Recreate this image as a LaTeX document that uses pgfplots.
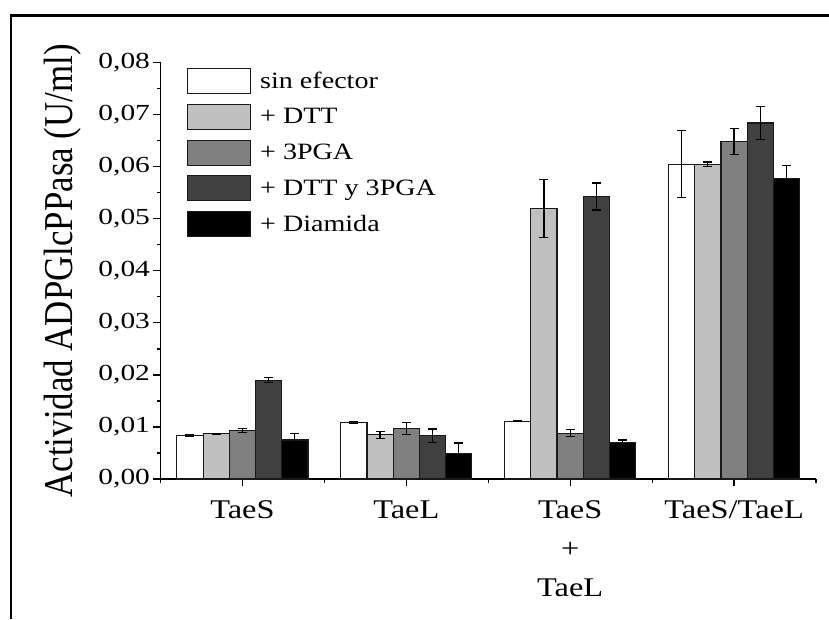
\documentclass[border=0pt]{standalone}
\usepackage{pgfplots}
\pgfplotsset{compat=1.18}
\usepackage{fontspec}
\setmainfont{Liberation Serif}
\newfontfamily\tallfont[FakeStretch=0.85]{Liberation Serif}

% horizontally widened text
\newcommand{\ws}[2][1.2]{\scalebox{#1}[1]{#2}}

\definecolor{cSin}{RGB}{255,255,255}
\definecolor{cDTT}{RGB}{192,192,192}
\definecolor{cPGA}{RGB}{128,128,128}
\definecolor{cBoth}{RGB}{64,64,64}
\definecolor{cDia}{RGB}{0,0,0}

% x = group (1 TaeS, 2 TaeL, 3 TaeS+TaeL, 4 TaeS/TaeL), y = activity (U/ml), e = error
\pgfplotstableread{
x y e
1 0.0083 0.0002
2 0.0109 0.0002
3 0.0111 0.0001
4 0.0605 0.0064
}\sinefector
\pgfplotstableread{
x y e
1 0.0087 0.0001
2 0.0085 0.0007
3 0.0520 0.0056
4 0.0605 0.0004
}\dtt
\pgfplotstableread{
x y e
1 0.0093 0.0004
2 0.0097 0.0012
3 0.0088 0.0007
4 0.0649 0.0025
}\pga
\pgfplotstableread{
x y e
1 0.0190 0.0005
2 0.0083 0.0013
3 0.0543 0.0026
4 0.0684 0.0032
}\dttpga
\pgfplotstableread{
x y e
1 0.0075 0.0013
2 0.0049 0.0020
3 0.0070 0.0005
4 0.0578 0.0024
}\diamida

\pgfplotsset{
  mybar/.style={
    draw=black!90, line width=1.2pt, fill=#1,
    error bars/y dir=both, error bars/y explicit,
    error bars/error bar style={line width=1.2pt, black},
    error bars/error mark options={rotate=90, mark size=4.5pt, line width=1.2pt, black},
  },
  boxlegend/.style={
    legend image code/.code={\draw[##1, line width=1.2pt] (0pt,-12.5pt) rectangle (63pt,12.5pt);}
  },
}

\begin{document}
\begin{tikzpicture}
\path[use as bounding box] (0,0) rectangle (829pt,619pt);
\draw[line width=2.5pt] (11pt,0) -- (11pt,603.3pt) -- (829pt,603.3pt);
\begin{axis}[
  at={(160.5pt,140pt)}, anchor=south west,
  scale only axis, width=655.5pt, height=416.3pt,
  xmin=0.5, xmax=4.5, ymin=0, ymax=0.08,
  axis x line*=bottom, axis y line*=left,
  axis line style={line width=1.2pt},
  tick align=outside,
  major tick length=7pt, minor tick length=4pt,
  every tick/.style={black, line width=1.2pt},
  xtick={1,2,3,4},
  xticklabels={\ws{TaeS},\ws{TaeL},{\ws{TaeS}\\\ws{+}\\\ws{TaeL}},\ws{TaeS/TaeL}},
  minor xtick={0.5,1.5,2.5,3.5,4.5},
  ytick={0,0.01,0.02,0.03,0.04,0.05,0.06,0.07,0.08},
  minor ytick={0.005,0.015,0.025,0.035,0.045,0.055,0.065,0.075},
  scaled y ticks=false,
  /pgf/number format/fixed,
  /pgf/number format/fixed zerofill,
  /pgf/number format/precision=2,
  /pgf/number format/use comma,
  /pgf/number format/assume math mode=true,
  yticklabel={\ws[1.28]{\pgfmathprintnumber{\tick}}},
  xticklabel style={font=\fontsize{27}{39}\selectfont, align=center, yshift=-11pt},
  yticklabel style={font=\fontsize{23}{27}\selectfont},
  ylabel={Actividad ADPGlcPPasa (U/ml)},
  every axis y label/.style={at={(axis description cs:-0.1487,0.5)}, rotate=90, anchor=center},
  ylabel style={font=\tallfont\fontsize{41}{45}\selectfont},
  ybar=0pt, bar width=0.16,
  legend style={draw=none, fill=none, at={(axis description cs:0.0404,0.987)},
    anchor=north west, inner sep=0pt, outer sep=0pt, row sep=9.5pt, column sep=9pt,
    font=\fontsize{23.4}{28}\selectfont, nodes={inner sep=0pt, anchor=west}},
  legend cell align=left,
]
\addplot[mybar=cSin, bar shift=-0.32, boxlegend] table[x=x, y=y, y error=e] {\sinefector};
\addlegendentry{\ws{sin efector}}
\addplot[mybar=cDTT, bar shift=-0.16, boxlegend] table[x=x, y=y, y error=e] {\dtt};
\addlegendentry{\ws{+ DTT}}
\addplot[mybar=cPGA, bar shift=0, boxlegend] table[x=x, y=y, y error=e] {\pga};
\addlegendentry{\ws{+ 3PGA}}
\addplot[mybar=cBoth, bar shift=0.16, boxlegend] table[x=x, y=y, y error=e] {\dttpga};
\addlegendentry{\ws{+ DTT y 3PGA}}
\addplot[mybar=cDia, bar shift=0.32, boxlegend] table[x=x, y=y, y error=e] {\diamida};
\addlegendentry{\ws{+ Diamida}}
\end{axis}
\end{tikzpicture}
\end{document}
